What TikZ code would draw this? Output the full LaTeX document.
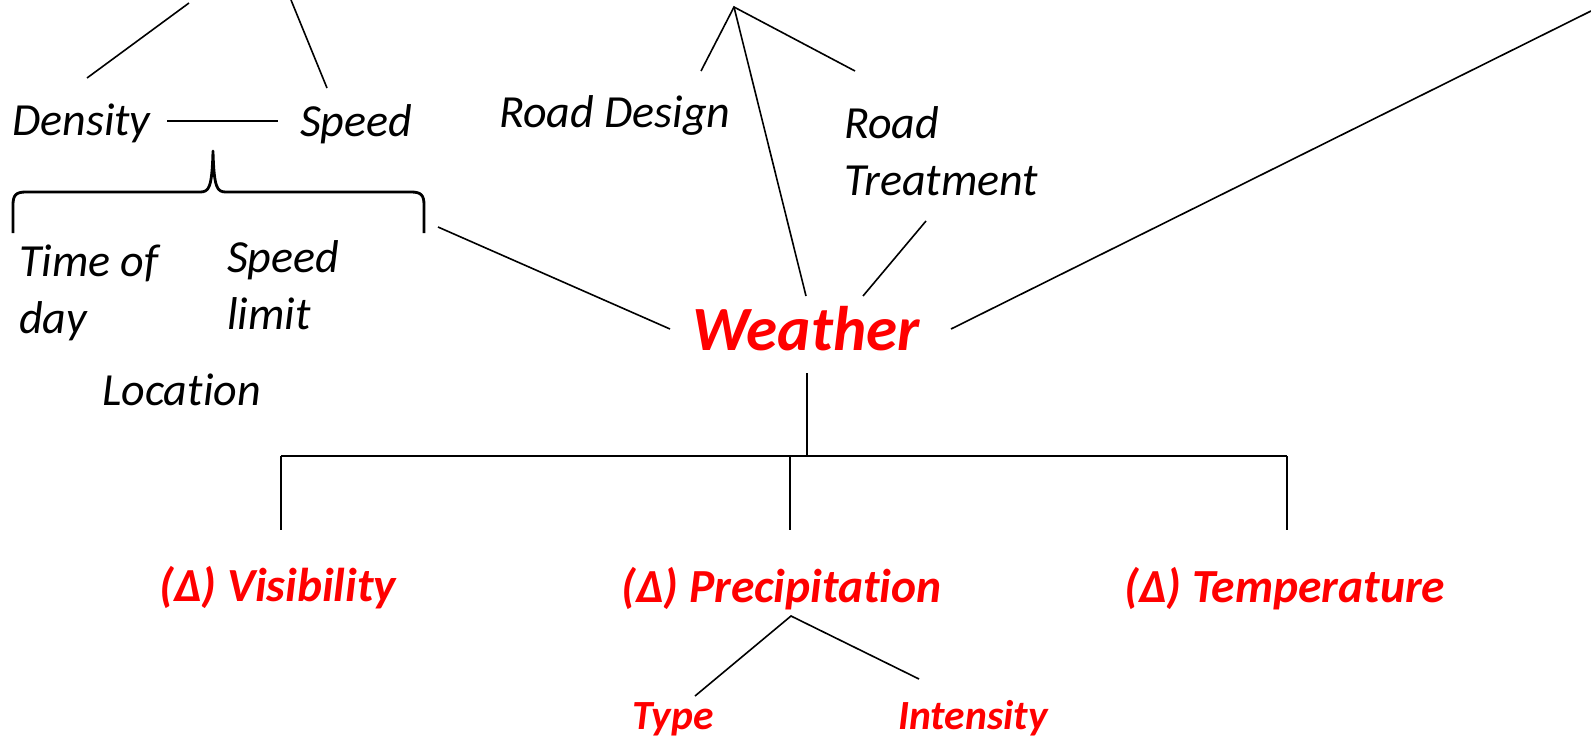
\documentclass[tikz,border=0pt]{standalone}
\usepackage{fontspec}
\setmainfont{Carlito}[Ligatures=NoCommon]
\begin{document}
\begin{tikzpicture}[x=1pt,y=-1pt,
  lbl/.style={inner sep=0pt, anchor=base west, font=\fontsize{46}{57}\selectfont\itshape},
  lbltwo/.style={inner sep=0pt, anchor=north west, align=left, font=\fontsize{46}{57}\selectfont\itshape},
  redbig/.style={inner sep=0pt, anchor=base west, text=red, font=\fontsize{63}{70}\selectfont\bfseries\itshape},
  redmid/.style={inner sep=0pt, anchor=base west, text=red, font=\fontsize{47.5}{56}\selectfont\bfseries\itshape},
  redsmall/.style={inner sep=0pt, anchor=base west, text=red, font=\fontsize{41.5}{50}\selectfont\bfseries\itshape},
  conn/.style={line width=1.6pt},
  thinconn/.style={line width=1.3pt},
  barconn/.style={line width=2.2pt},
  bracestyle/.style={line width=2.8pt, line join=round}]
\useasboundingbox (0,0) rectangle (1591,737);

% text nodes
\node[lbl] (density) at (12,135) {Density};
\node[lbl] (speed) at (300,136) {Speed};
\node[lbltwo] (timeofday) at (19,245) {Time of\\day};
\node[lbltwo] (speedlimit) at (227,240) {Speed\\limit};
\node[lbl] (location) at (102,405) {Location};
\node[lbl] (roaddesign) at (499,127) {Road Design};
\node[lbltwo] (roadtreat) at (844,106) {Road\\Treatment};
\node[redbig] (weather) at (692,350) {Weather};
\node[redmid] (visibility) at (159,601) {(Δ) Visibility};
\node[redmid] (precip) at (621,602) {(Δ) Precipitation};
\node[redmid] (temp) at (1124,602) {(Δ) Temperature};
\node[redsmall] (type) at (632,729) {Type};
\node[redsmall] (intensity) at (898,729) {Intensity};

% connector end points
\coordinate (tl1a) at (87,78);   \coordinate (tl1b) at (189,3);
\coordinate (tl2a) at (327,88);  \coordinate (tl2b) at (291,0);
\coordinate (dsa) at (167,121);  \coordinate (dsb) at (278,121);
\coordinate (apex) at (734,7);
\coordinate (rdend) at (701,71);
\coordinate (rtup) at (855,71);
\coordinate (wtop) at (806,296);
\coordinate (rtlow) at (926,221);
\coordinate (wrt) at (863,296);
\coordinate (bracer) at (438,227);
\coordinate (wleft) at (670,329);
\coordinate (wright) at (951,329);
\coordinate (farright) at (1591,11);
\coordinate (wbot) at (807,373);
\coordinate (barmid) at (807,456);
\coordinate (barl) at (281,456);
\coordinate (barc) at (790,456);
\coordinate (barr) at (1287,456);
\coordinate (visup) at (281,530);
\coordinate (preup) at (790,530);
\coordinate (temup) at (1287,530);
\coordinate (papex) at (791,616);
\coordinate (typeend) at (695,696);
\coordinate (intend) at (919,679);

% connectors
\draw[conn] (tl1a) -- (tl1b);
\draw[conn] (tl2a) -- (tl2b);
\draw[conn] (dsa) -- (dsb);
\draw[conn] (rdend) -- (apex) -- (rtup);
\draw[conn] (apex) -- (wtop);
\draw[conn] (rtlow) -- (wrt);
\draw[conn] (bracer) -- (wleft);
\draw[conn] (wright) -- (farright);
\draw[thinconn] (wbot) -- (barmid);
\draw[barconn] (barl) -- (barr);
\draw[thinconn] (barl) -- (visup);
\draw[thinconn] (barc) -- (preup);
\draw[thinconn] (barr) -- (temup);
\draw[conn] (typeend) -- (papex) -- (intend);

% brace
\draw[bracestyle] (13,233) -- (13,205) .. controls (13,195) and (16,192) .. (26,192)
  -- (200,192) .. controls (209,192) and (212,188) .. (213,151)
  .. controls (214,188) and (217,192) .. (226,192)
  -- (411,192) .. controls (421,192) and (424,195) .. (424,205) -- (424,233);
\end{tikzpicture}
\end{document}
